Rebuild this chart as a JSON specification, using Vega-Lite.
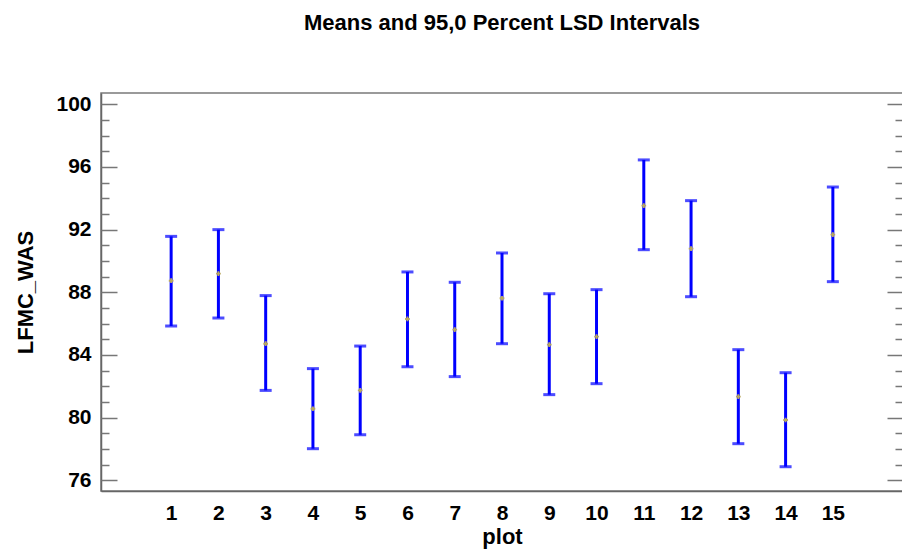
{
  "$schema": "https://vega.github.io/schema/vega-lite/v6.json",
  "width": 802,
  "height": 398,
  "autosize": {"type": "none"},
  "padding": {"left": 101, "top": 93, "right": -1, "bottom": 58},
  "background": "white",
  "title": {
    "text": "Means and 95,0 Percent LSD Intervals",
    "font": "Liberation Sans",
    "fontSize": 22,
    "fontWeight": "bold",
    "color": "black",
    "anchor": "middle",
    "frame": "group",
    "offset": 58
  },
  "data": {
    "values": [
      {"plot": 1, "lower": 85.85, "mean": 88.74, "upper": 91.57},
      {"plot": 2, "lower": 86.36, "mean": 89.19, "upper": 92.0},
      {"plot": 3, "lower": 81.74, "mean": 84.72, "upper": 87.79},
      {"plot": 4, "lower": 78.02, "mean": 80.57, "upper": 83.13},
      {"plot": 5, "lower": 78.91, "mean": 81.74, "upper": 84.57},
      {"plot": 6, "lower": 83.25, "mean": 86.3, "upper": 89.3},
      {"plot": 7, "lower": 82.62, "mean": 85.62, "upper": 88.64},
      {"plot": 8, "lower": 84.72, "mean": 87.62, "upper": 90.51},
      {"plot": 9, "lower": 81.47, "mean": 84.66, "upper": 87.91},
      {"plot": 10, "lower": 82.17, "mean": 85.17, "upper": 88.17},
      {"plot": 11, "lower": 90.72, "mean": 93.53, "upper": 96.45},
      {"plot": 12, "lower": 87.72, "mean": 90.79, "upper": 93.85},
      {"plot": 13, "lower": 78.34, "mean": 81.34, "upper": 84.34},
      {"plot": 14, "lower": 76.87, "mean": 79.85, "upper": 82.87},
      {"plot": 15, "lower": 88.68, "mean": 91.68, "upper": 94.72}
    ]
  },
  "encoding": {
    "x": {
      "field": "plot",
      "type": "quantitative",
      "scale": {"domain": [-0.484, 16.484], "nice": false, "zero": false},
      "axis": {
        "values": [1, 2, 3, 4, 5, 6, 7, 8, 9, 10, 11, 12, 13, 14, 15],
        "format": "d",
        "ticks": false,
        "grid": false,
        "labelFont": "Liberation Sans",
        "labelFontSize": 21,
        "labelFontWeight": "bold",
        "labelColor": "black",
        "labelPadding": 11,
        "labelFlush": false,
        "labelOverlap": false,
        "domainColor": "#666666",
        "domainWidth": 1.5,
        "title": "plot",
        "titleFont": "Liberation Sans",
        "titleFontSize": 22,
        "titleFontWeight": "bold",
        "titleColor": "black",
        "titlePadding": 3
      }
    }
  },
  "layer": [
    {
      "mark": {"type": "rule", "color": "#0000ff", "strokeWidth": 3},
      "encoding": {
        "y": {
          "field": "lower",
          "type": "quantitative",
          "scale": {"domain": [75.32, 100.72], "nice": false, "zero": false},
          "axis": {
            "orient": "left",
            "values": [76, 80, 84, 88, 92, 96, 100],
            "ticks": false,
            "labelFont": "Liberation Sans",
            "labelFontSize": 21,
            "labelFontWeight": "bold",
            "labelColor": "black",
            "labelPadding": 10,
            "labelOverlap": false,
            "labelFlush": false,
            "domainColor": "#666666",
            "domainWidth": 1.5,
            "grid": false,
            "title": "LFMC_WAS",
            "titleFont": "Liberation Sans",
            "titleFontSize": 22,
            "titleFontWeight": "bold",
            "titleColor": "black",
            "titlePadding": 18
          }
        },
        "y2": {"field": "upper"}
      }
    },
    {
      "mark": {"type": "tick", "orient": "horizontal", "color": "#0000ff", "size": 12, "thickness": 3},
      "encoding": {
        "y": {
          "field": "lower",
          "type": "quantitative",
          "axis": {
            "orient": "left",
            "values": [76, 77, 78, 79, 80, 81, 82, 83, 84, 85, 86, 87, 88, 89, 90, 91, 92, 93, 94, 95, 96, 97, 98, 99, 100],
            "tickSize": {"condition": {"test": "datum.value % 4 === 0", "value": -16}, "value": -8},
            "tickColor": "#777777",
            "tickWidth": 1.5,
            "labels": false,
            "domain": false,
            "grid": false,
            "title": null
          }
        }
      }
    },
    {
      "mark": {"type": "tick", "orient": "horizontal", "color": "#0000ff", "size": 12, "thickness": 3},
      "encoding": {
        "y": {"field": "upper", "type": "quantitative", "axis": null}
      }
    },
    {
      "mark": {"type": "point", "shape": "cross", "filled": true, "color": "#b9a85e", "size": 22, "opacity": 1},
      "encoding": {
        "y": {
          "field": "mean",
          "type": "quantitative",
          "axis": {
            "orient": "right",
            "values": [76, 77, 78, 79, 80, 81, 82, 83, 84, 85, 86, 87, 88, 89, 90, 91, 92, 93, 94, 95, 96, 97, 98, 99, 100],
            "tickSize": {"condition": {"test": "datum.value % 4 === 0", "value": -16}, "value": -8},
            "tickColor": "#777777",
            "tickWidth": 1.5,
            "labels": false,
            "domain": false,
            "grid": false,
            "title": null
          }
        }
      }
    }
  ],
  "resolve": {"axis": {"y": "independent"}},
  "config": {
    "view": {"stroke": "#7a7a7a", "strokeWidth": 1.5},
    "axis": {"grid": false}
  }
}
